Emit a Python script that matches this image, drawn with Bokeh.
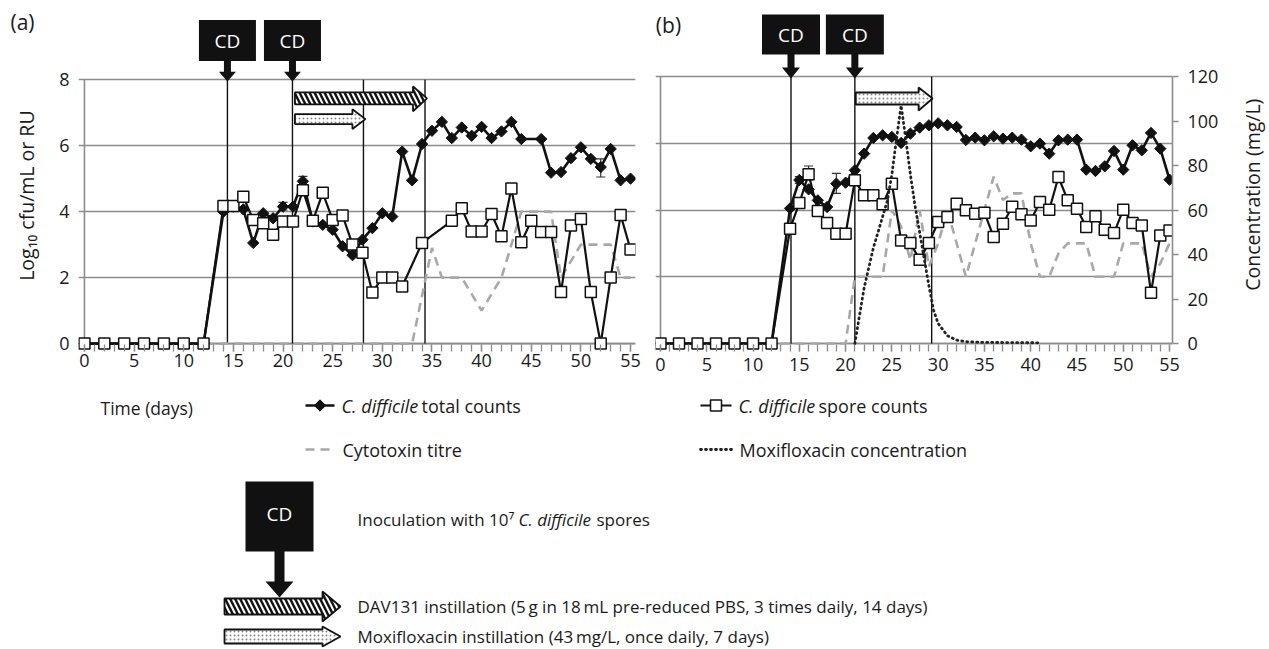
import math
from bokeh.plotting import figure
from bokeh.models import Range1d, LinearAxis, SingleIntervalTicker, FixedTicker, Whisker, TeeHead, ColumnDataSource
from bokeh.layouts import column, row
from bokeh.embed import file_html
from bokeh.resources import INLINE
from bokeh.core.properties import value

FONT = "Open Sans"
GRID = "#8c8c8c"
CYTO = "#a8a8a8"
TXT = "#1a1a1a"

# ------------------------------------------------------------------ data
# panel (a)
a_total_days = [0, 2, 4, 6, 8, 10, 12, 14, 15, 16, 17, 18, 19, 20, 21, 22, 23, 24, 25, 26, 27, 28, 29, 30,
                31, 32, 33, 34, 35, 36, 37, 38, 39, 40, 41, 42, 43, 44, 46, 47, 48, 49, 50, 51, 52, 53, 54, 55]
a_total = [0, 0, 0, 0, 0, 0, 0, 4.0, 4.15, 4.07, 3.05, 3.95, 3.8, 4.15, 4.15, 4.92, 3.7, 3.6, 3.45, 2.95, 2.68,
           3.15, 3.5, 3.95, 3.85, 5.82, 4.95, 6.05, 6.45, 6.72, 6.23, 6.55, 6.3, 6.57, 6.23, 6.43, 6.72, 6.2,
           6.2, 5.18, 5.2, 5.62, 5.95, 5.6, 5.35, 5.9, 4.95, 5.0]
a_spore_days = [0, 2, 4, 6, 8, 10, 12, 14, 15, 16, 17, 18, 19, 20, 21, 22, 23, 24, 25, 26, 27, 28, 29, 30,
                31, 32, 34, 37, 38, 39, 40, 41, 42, 43, 44, 45, 46, 47, 48, 49, 50, 51, 52, 53, 54, 55]
a_spore = [0, 0, 0, 0, 0, 0, 0, 4.17, 4.17, 4.45, 3.75, 3.65, 3.3, 3.7, 3.7, 4.65, 3.72, 4.57, 3.75, 3.88, 3.0,
           2.75, 1.55, 2.0, 2.0, 1.73, 3.05, 3.72, 4.1, 3.4, 3.4, 3.93, 3.25, 4.7, 3.07, 3.72, 3.38, 3.38,
           1.56, 3.58, 3.78, 1.56, 0.0, 2.0, 3.9, 2.85]
a_cyto_days = [0, 33, 35, 36, 38, 40, 42, 44, 47, 48, 50, 53, 54, 55]
a_cyto = [0, 0, 2.9, 2.0, 2.0, 1.0, 2.0, 4.0, 4.0, 2.0, 3.0, 3.0, 2.0, 2.0]
a_err_days = [20, 22, 52]
a_err_lo = [4.05, 4.8, 5.05]
a_err_hi = [4.28, 5.07, 5.6]
a_event_days = [14.4, 20.95, 28.1, 34.3]
a_cd_days = [14.4, 20.95]
a_dav_period = (21.2, 34.5)
a_moxi_period = (21.2, 28.3)

# panel (b)
b_days = [0, 2, 4, 6, 8, 10, 12, 14, 15, 16, 17, 18, 19, 20, 21, 22, 23, 24, 25, 26, 27, 28, 29, 30, 31, 32,
          33, 34, 35, 36, 37, 38, 39, 40, 41, 42, 43, 44, 45, 46, 47, 48, 49, 50, 51, 52, 53, 54, 55]
b_total = [0, 0, 0, 0, 0, 0, 0, 4.05, 4.9, 4.62, 4.29, 4.09, 4.79, 4.82, 5.19, 5.69, 6.16, 6.24, 6.19, 6.01,
           6.29, 6.47, 6.54, 6.6, 6.54, 6.49, 6.1, 6.17, 6.09, 6.21, 6.14, 6.17, 6.11, 5.91, 5.99, 5.69, 6.09,
           6.11, 6.11, 5.21, 5.17, 5.31, 5.77, 5.21, 5.94, 5.79, 6.31, 5.84, 4.91]
b_spore = [0, 0, 0, 0, 0, 0, 0, 3.44, 4.21, 5.07, 3.97, 3.61, 3.29, 3.29, 4.89, 4.44, 4.44, 4.17, 4.79, 3.09,
           3.01, 2.51, 3.01, 3.64, 3.79, 4.19, 3.99, 3.89, 3.92, 3.19, 3.59, 4.1, 3.87, 3.69, 4.24, 4.01, 4.99,
           4.29, 4.04, 3.49, 3.81, 3.41, 3.31, 4.01, 3.61, 3.54, 1.52, 3.24, 3.39]
b_cyto_days = [0, 20, 21, 24, 25, 26, 27, 28, 29, 30, 31, 32, 33, 34, 36, 37, 38, 39, 40, 41, 42, 43, 44, 45,
               46, 47, 48, 49, 50, 51, 52, 53, 54, 55]
b_cyto = [0, 0, 2, 2, 4, 3.5, 2.5, 4, 2.3, 3, 4, 3, 2, 3, 5, 4.3, 4.5, 4.5, 3, 2, 2, 2.7, 3, 3, 3, 2, 2, 2,
          3, 3, 3, 2, 2.4, 3]
b_moxi_days = [21, 22, 23, 24, 24.5, 25, 25.5, 26, 26.5, 27, 27.5, 28, 28.5, 29, 29.5, 30, 31, 32, 33, 35, 38, 41]
b_moxi = [0, 25, 43, 57, 64, 76, 92, 107, 92, 76, 62, 50, 38, 26, 15, 9, 3.5, 1.5, 0.8, 0.5, 0.4, 0.3]
b_err_days = [15, 16, 19]
b_err_lo = [4.8, 4.9, 4.5]
b_err_hi = [5.0, 5.32, 5.1]
b_event_days = [14.1, 21.0, 29.3]
b_cd_days = [14.1, 21.0]
b_moxi_period = (21.1, 29.4)

log_ticks = [0, 2, 4, 6, 8]
conc_ticks = [0, 20, 40, 60, 80, 100, 120]
cd_text = "CD"
left_title = "Log\u2081\u2080 cfu/mL or RU"
right_title = "Concentration (mg/L)"

H_TOP = 385


# ------------------------------------------------------------------ helpers
class Panel:
    def __init__(self, width, x_range, y_range, min_left, min_right, min_bottom, height=H_TOP):
        self.x0, self.x1 = x_range
        self.y0, self.y1 = y_range
        fw = width - min_left - min_right
        fh = height - min_bottom
        self.sx = fw / (self.x1 - self.x0)
        self.sy = fh / (self.y1 - self.y0)
        p = figure(width=width, height=height, x_range=Range1d(*x_range), y_range=Range1d(*y_range),
                   output_backend="svg", toolbar_location=None, min_border_left=min_left,
                   min_border_right=min_right, min_border_top=0, min_border_bottom=min_bottom)
        p.outline_line_color = None
        p.background_fill_color = "white"
        p.border_fill_color = "white"
        p.xgrid.visible = False
        yt = FixedTicker(ticks=log_ticks)
        p.ygrid.ticker = yt
        p.ygrid.grid_line_color = GRID
        p.ygrid.grid_line_width = 1.5
        xa = p.xaxis[0]
        xa.ticker = SingleIntervalTicker(interval=5, num_minor_ticks=5)
        xa.bounds = (0, 55)
        xa.axis_line_color = None
        xa.major_tick_in = 7
        xa.major_tick_out = 0
        xa.minor_tick_in = 7
        xa.minor_tick_out = 0
        xa.major_tick_line_color = GRID
        xa.minor_tick_line_color = GRID
        xa.major_tick_line_width = 1.3
        xa.minor_tick_line_width = 1.3
        xa.major_label_text_font = FONT
        xa.major_label_text_font_size = "18px"
        xa.major_label_text_color = TXT
        ya = p.yaxis[0]
        ya.ticker = yt
        ya.bounds = (0, 8)
        self.p = p

    def py(self, px):  # canvas pixel row -> data y
        return self.y1 - px / self.sy

    def dxp(self, px):
        return px / self.sx


def frame_lines(P, x_end):
    P.p.segment(x0=[0, 0], y0=[0, 0], x1=[0, x_end], y1=[8, 0], line_color=GRID, line_width=1.6)


def draw_series(P, total_days, total, spore_days, spore, cyto_days, cyto, events, sq_size,
                err_days, err_lo, err_hi):
    p = P.p
    p.segment(x0=events, y0=[0] * len(events), x1=events, y1=[8] * len(events),
              line_color="#111111", line_width=1.4)
    p.line(cyto_days, cyto, line_color=CYTO, line_width=2.6, line_dash="9 6")
    src = ColumnDataSource(dict(x=err_days, lo=err_lo, hi=err_hi))
    p.add_layout(Whisker(base="x", lower="lo", upper="hi", source=src, line_color="#333333", line_width=1.2,
                         lower_head=TeeHead(size=9, line_color="#333333", line_width=1.2),
                         upper_head=TeeHead(size=9, line_color="#333333", line_width=1.2)))
    p.line(total_days, total, line_color="#111111", line_width=2.6)
    p.scatter(total_days, total, marker="square", angle=math.pi / 4, size=8,
              fill_color="#111111", line_color="#111111")
    p.line(spore_days, spore, line_color="#111111", line_width=2.2)
    p.scatter(spore_days, spore, marker="square", size=sq_size, fill_color="white",
              line_color="#111111", line_width=1.5)


def cd_markers(P, days, box_w, box_h, box_top_px, head_base_px, tip_px, shaft_w, head_w):
    p = P.p
    yc = P.py(box_top_px + box_h / 2.0)
    p.rect(x=days, y=[yc] * len(days), width=box_w, height=box_h, width_units="screen",
           height_units="screen", fill_color="#111111", line_color=None)
    p.text(x=days, y=[yc] * len(days), text=[cd_text] * len(days), text_color="white",
           text_font=value(FONT), text_font_size="19px", text_align="center", text_baseline="middle")
    xs, ys = [], []
    yb = P.py(box_top_px + box_h - 1)
    yh = P.py(head_base_px)
    yt = P.py(tip_px)
    sw = P.dxp(shaft_w / 2.0)
    hw = P.dxp(head_w / 2.0)
    for d in days:
        xs.append([d - sw, d + sw, d + sw, d + hw, d, d - hw, d - sw])
        ys.append([yb, yb, yh, yh, yt, yh, yh])
    p.patches(xs, ys, fill_color="#111111", line_color=None)


def hatch_kw(kind):
    if kind == "dav":
        return dict(hatch_pattern="\\", hatch_color="#111111", hatch_weight=2.4, hatch_scale=10)
    return dict(hatch_pattern="dot", hatch_color="#8a8a8a", hatch_weight=1.0, hatch_scale=4)


def treat_arrow(P, period, body_top_px, body_bot_px, head_top_px, head_bot_px, head_len_px, kind):
    x0, xt = period
    xh = xt - P.dxp(head_len_px)
    bt, bb = P.py(body_top_px), P.py(body_bot_px)
    ht, hb = P.py(head_top_px), P.py(head_bot_px)
    ym = (bt + bb) / 2.0
    xs = [x0, xh, xh, xt, xh, xh, x0]
    ys = [bb, bb, hb, ym, ht, bt, bt]
    P.p.patches([xs], [ys], fill_color="white", line_color="#111111", line_width=1.8, **hatch_kw(kind))


def strip(width, height=H_TOP):
    s = figure(width=width, height=height, x_range=Range1d(0, width), y_range=Range1d(height, 0),
               output_backend="svg", toolbar_location=None, min_border=0)
    s.axis.visible = False
    s.grid.visible = False
    s.outline_line_color = None
    return s


# ------------------------------------------------------------------ left strip: "(a)" + axis title
sa = strip(45)
sa.text(x=[10], y=[24], text=["(a)"], text_font=value(FONT), text_font_size="21px", text_color=TXT,
        text_align="left", text_baseline="middle")
sa.text(x=[26], y=[214], text=[left_title], angle=math.pi / 2, text_font=value(FONT),
        text_font_size="19.5px", text_color=TXT, text_align="center", text_baseline="middle")

# ------------------------------------------------------------------ panel (a)
A = Panel(600, (-0.6, 55.5), (-0.24, 10.40), 33, 10, 30)
pa = A.p
ya = pa.yaxis[0]
ya.axis_line_color = None
ya.major_tick_in = 0
ya.major_tick_out = 0
ya.minor_tick_line_color = None
ya.major_label_standoff = 9
ya.major_label_text_font = FONT
ya.major_label_text_font_size = "18px"
ya.major_label_text_color = TXT
pa.xaxis[0].major_label_standoff = 2

frame_lines(A, 55.5)
draw_series(A, a_total_days, a_total, a_spore_days, a_spore, a_cyto_days, a_cyto, a_event_days, 11,
            a_err_days, a_err_lo, a_err_hi)
treat_arrow(A, a_dav_period, 93, 105, 87, 112, 14, "dav")
treat_arrow(A, a_moxi_period, 115, 125, 110, 130, 13, "moxi")
cd_markers(A, a_cd_days, 57, 41, 20, 72, 82, 7, 17)

# ------------------------------------------------------------------ panel (b)
B = Panel(587, (-0.54, 55.32), (-0.24, 10.28), 10, 60, 34)
pb = B.p
pb.yaxis[0].visible = False
pb.xaxis[0].major_label_standoff = 6
pb.extra_y_ranges = {"conc": Range1d(-0.24 * 15, 10.28 * 15)}
ra = LinearAxis(y_range_name="conc", ticker=FixedTicker(ticks=conc_ticks), bounds=(0, 120))
ra.axis_line_color = GRID
ra.axis_line_width = 1.6
ra.major_tick_out = 6
ra.major_tick_in = 0
ra.major_tick_line_color = GRID
ra.major_tick_line_width = 1.3
ra.minor_tick_line_color = None
ra.major_label_standoff = 9
ra.major_label_text_font = FONT
ra.major_label_text_font_size = "18px"
ra.major_label_text_color = TXT
pb.add_layout(ra, "right")

frame_lines(B, 55.32)
draw_series(B, b_days, b_total, b_days, b_spore, b_cyto_days, b_cyto, b_event_days, 11,
            b_err_days, b_err_lo, b_err_hi)
pb.line(b_moxi_days, b_moxi, y_range_name="conc", line_color="#222222", line_width=2.8,
        line_dash="1 4", line_cap="round")
treat_arrow(B, b_moxi_period, 92, 104, 87, 110, 14, "moxi")
cd_markers(B, b_cd_days, 58, 40, 14, 67, 78, 7, 18)
pb.text(x=[-0.5], y=[B.py(24)], text=["(b)"], text_font=value(FONT), text_font_size="21px",
        text_color=TXT, text_align="left", text_baseline="middle")

# ------------------------------------------------------------------ right strip: axis title
sb = strip(37)
sb.text(x=[20], y=[213], text=[right_title], angle=math.pi / 2, text_font=value(FONT),
        text_font_size="19.5px", text_color=TXT, text_align="center", text_baseline="middle")

# ------------------------------------------------------------------ key (legend area)
k = figure(width=1269, height=649 - H_TOP, x_range=Range1d(0, 1269), y_range=Range1d(649, H_TOP),
           output_backend="svg", toolbar_location=None, min_border=0)
k.axis.visible = False
k.grid.visible = False
k.outline_line_color = None


def ktext(x, y, s, italic=False, size="17px"):
    k.text(x=[x], y=[y], text=[s], text_font=value(FONT), text_font_size=size,
           text_font_style="italic" if italic else "normal", text_color=TXT,
           text_align="left", text_baseline="middle")


ktext(100, 407, "Time (days)", size="17.5px")
r1, r2 = 405, 449
# total counts
k.line([305, 334], [r1, r1], line_color="#111111", line_width=2.6)
k.scatter([319.5], [r1], marker="square", angle=math.pi / 4, size=8, fill_color="#111111", line_color="#111111")
ktext(341, r1, "C. difficile", italic=True, size="18px")
ktext(421, r1, "total counts", size="18px")
# cytotoxin
k.line([305, 334], [r2, r2], line_color=CYTO, line_width=2.6, line_dash="9 6")
ktext(342, r2, "Cytotoxin titre", size="18px")
# spores
k.line([700, 731], [r1, r1], line_color="#111111", line_width=2.2)
k.scatter([715.5], [r1], marker="square", size=11, fill_color="white", line_color="#111111", line_width=1.5)
ktext(738, r1, "C. difficile", italic=True, size="18px")
ktext(818, r1, "spore counts", size="18px")
# moxifloxacin conc
k.line([700, 733], [r2, r2], line_color="#222222", line_width=2.8, line_dash="1 4", line_cap="round")
ktext(739, r2, "Moxifloxacin concentration", size="18px")

# CD key
k.rect(x=[279], y=[516], width=68, height=70, fill_color="#111111", line_color=None)
k.text(x=[279], y=[513], text=[cd_text], text_color="white", text_font=value(FONT), text_font_size="19px",
       text_align="center", text_baseline="middle")
k.patch([274, 284, 284, 293, 279, 265, 274, 274], [550, 550, 581, 581, 597, 581, 581, 550],
        fill_color="#111111", line_color=None)
ktext(357, 519, "Inoculation with 10\u2077")
ktext(518, 519, "C. difficile", italic=True)
ktext(596, 519, "spores")
# DAV key arrow
k.patches([[224, 322, 322, 340, 322, 322, 224]], [[614, 614, 621, 606, 591, 598, 598]],
          fill_color="white", line_color="#111111", line_width=1.8, **hatch_kw("dav"))
ktext(357, 606, "DAV131 instillation (5\u2009g in 18\u2009mL pre-reduced PBS, 3 times daily, 14 days)")
# Moxi key arrow
k.patches([[224, 322, 322, 340, 322, 322, 224]], [[643, 643, 646, 636, 626, 629, 629]],
          fill_color="white", line_color="#111111", line_width=1.8, **hatch_kw("moxi"))
ktext(357, 636, "Moxifloxacin instillation (43\u2009mg/L, once daily, 7 days)")

layout = column(row(sa, pa, pb, sb, spacing=0), k, spacing=0)
open("out.html", "w").write(file_html(layout, INLINE))
